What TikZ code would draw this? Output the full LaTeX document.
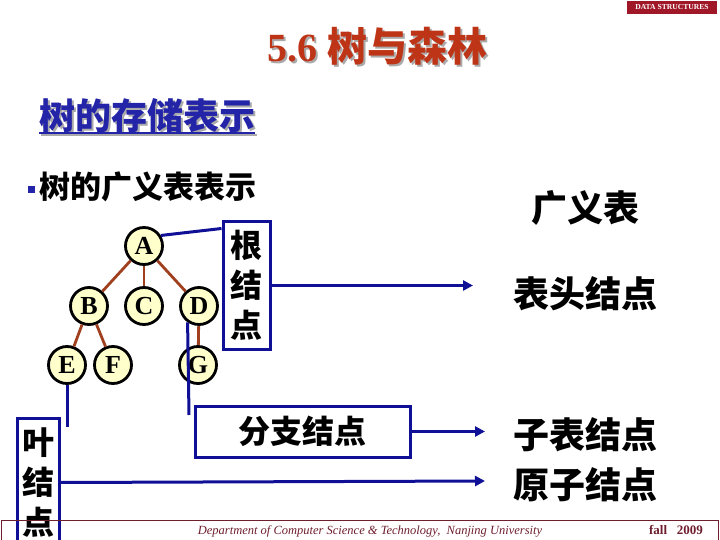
\documentclass[tikz,border=0pt]{standalone}
\usepackage{fontspec}
\setmainfont{Liberation Serif}
\newfontfamily\cjk{Noto Sans CJK SC}
\usetikzlibrary{arrows.meta}
\definecolor{navy}{RGB}{16,16,150}
\definecolor{treeedge}{RGB}{160,64,30}
\definecolor{nodefill}{RGB}{255,255,204}
\definecolor{titlered}{RGB}{190,52,22}
\definecolor{subblue}{RGB}{36,36,168}
\definecolor{darkred}{RGB}{160,24,40}
\definecolor{footred}{RGB}{110,30,45}
\definecolor{shadowgray}{RGB}{170,170,170}
\newcommand{\shadowtext}[2]{\makebox[0pt][l]{\hspace{2pt}\raisebox{-2pt}{\textcolor{shadowgray}{#2}}}\textcolor{#1}{#2}}
\tikzset{
  treenode/.style={circle,draw=black,line width=2.8pt,fill=nodefill,minimum size=37pt,inner sep=0pt,font=\bfseries\fontsize{26}{26}\selectfont},
  treeline/.style={draw=treeedge,line width=2.8pt},
  bluebox/.style={draw=navy,line width=3pt,inner sep=0pt,align=center},
  blueline/.style={draw=navy,line width=3pt},
  bluearrow/.style={draw=navy,line width=3pt,-{Triangle[length=10pt,width=10pt]}},
  bigcjk/.style={font=\cjk\bfseries\fontsize{36}{36}\selectfont},
}
\begin{document}
\begin{tikzpicture}[x=1pt,y=-1pt]
\useasboundingbox (0,0) rectangle (720,540);
\clip (0,0) rectangle (720,540);
% header tag
\node[fill=darkred,minimum width=90pt,minimum height=13pt,inner sep=0pt,text=white,font=\bfseries\fontsize{7.6}{8}\selectfont] (tag) at (672,7.5) {DATA STRUCTURES};
% title with shadow
\node[font=\bfseries\fontsize{40}{40}\selectfont,inner sep=0pt] (title) at (377.5,47.5) {\shadowtext{titlered}{5.6 {\cjk 树与森林}}};
% subheading with shadow and underline
\node[font=\cjk\bfseries\fontsize{36}{36}\selectfont,inner sep=0pt,anchor=west] (sub) at (39,116.5) {\shadowtext{subblue}{树的存储表示}};
\draw[shadowgray,line width=2pt] (41,135.5) -- (257,135.5);
\draw[subblue,line width=2pt] (39,133.5) -- (255,133.5);
% bullet line
\node[fill=subblue,minimum size=7pt,inner sep=0pt] (bullet) at (31.5,189.5) {};
\node[font=\cjk\bfseries\fontsize{31}{31}\selectfont,inner sep=0pt,anchor=west] (gl) at (39,187) {树的广义表表示};
% right column
\node[bigcjk,inner sep=0pt] (gylabel) at (585,208) {广义表};
\node[bigcjk,inner sep=0pt] (head) at (585,294) {表头结点};
\node[bigcjk,inner sep=0pt] (sublist) at (585,435) {子表结点};
\node[bigcjk,inner sep=0pt] (atom) at (585,485) {原子结点};
% tree
\node[treenode] (A) at (144,246) {A};
\node[treenode] (B) at (89,306) {B};
\node[treenode] (C) at (144,306) {C};
\node[treenode] (D) at (199,306) {D};
\node[treenode] (E) at (67,365) {E};
\node[treenode] (F) at (113,365) {F};
\node[treenode] (G) at (198,365) {G};
\draw[treeline] (A) -- (B);
\draw[treeline] (A) -- (C);
\draw[treeline] (A) -- (D);
\draw[treeline] (B) -- (E);
\draw[treeline] (B) -- (F);
\draw[treeline] (D) -- (G);
% boxes
\node[bluebox,minimum width=47pt,minimum height=127pt,font=\cjk\bfseries\fontsize{32}{40}\selectfont] (rootbox) at (246.5,285.5) {根\\结\\点};
\node[bluebox,minimum width=215pt,minimum height=51pt,font=\cjk\bfseries\fontsize{32}{32}\selectfont] (branchbox) at (302.5,431.5) {分支结点};
\node[bluebox,minimum width=42pt,minimum height=128pt,font=\cjk\bfseries\fontsize{32}{40}\selectfont,anchor=north] (leafbox) at (38,417) {叶\\结\\点};
% connectors
\coordinate (headend) at (473,285.5);
\coordinate (dend) at (189,415);
\coordinate (eend) at (67,427);
\coordinate (subend) at (485,431.5);
\coordinate (atomend) at (485,481);
\draw[blueline] (A.32) -- ([yshift=-8pt]rootbox.north west);
\draw[bluearrow] (rootbox.east) -- (headend);
\draw[blueline] (D.235) -- (dend);
\draw[blueline] (E.south) -- (eend);
\draw[bluearrow] (branchbox.east) -- (subend);
\draw[bluearrow] (leafbox.east) -- (atomend);
% footer
\draw[footred,line width=1pt] (1.5,520.5) rectangle (718.5,545);
\node[text=footred,font=\itshape\fontsize{12.5}{13}\selectfont,inner sep=0pt] (foot) at (370,531) {Department of Computer Science \& Technology,\ \ Nanjing University};
\node[text=footred,font=\bfseries\fontsize{13}{13}\selectfont,inner sep=0pt] (fall) at (676,530) {fall\ \ \ 2009};
\end{tikzpicture}
\end{document}
